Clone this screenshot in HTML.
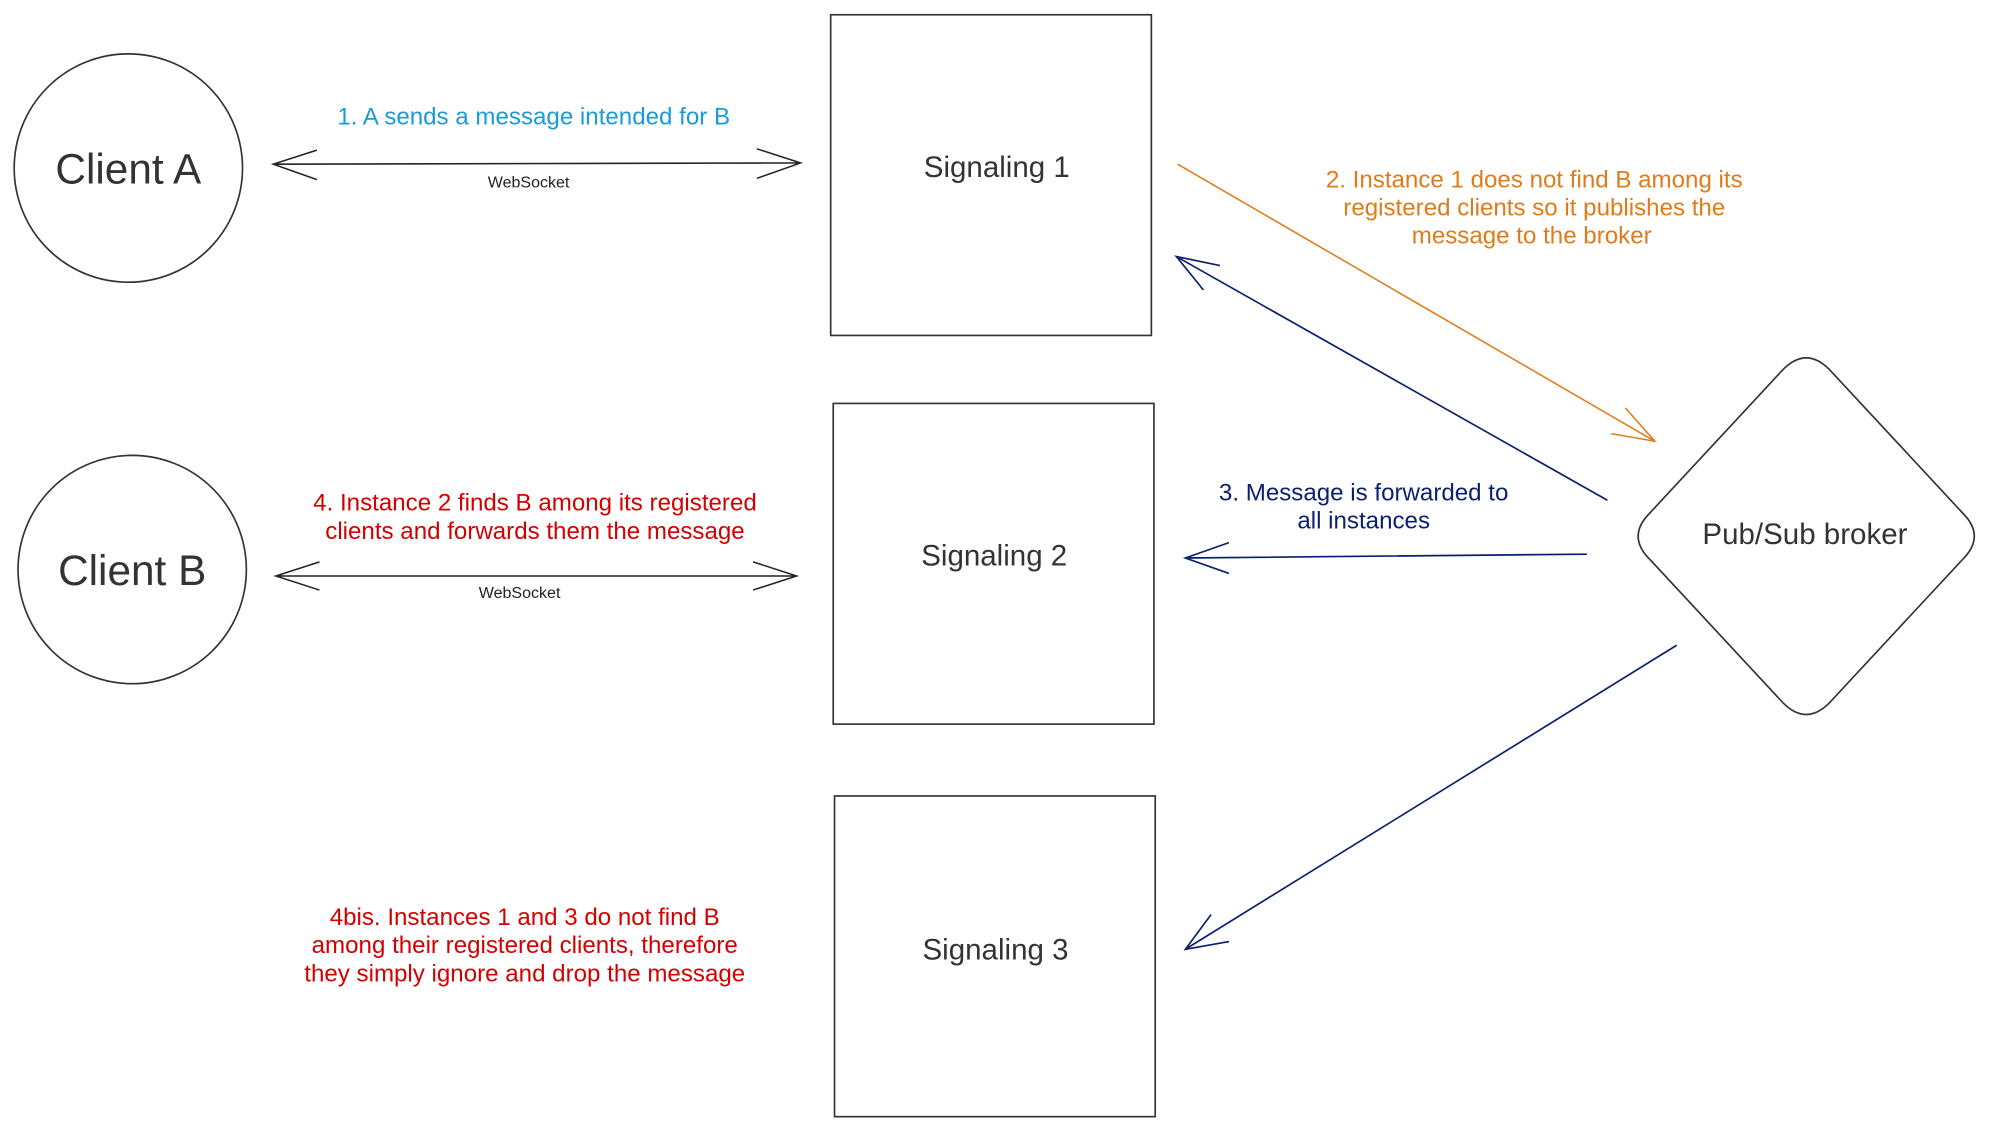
<!DOCTYPE html>
<html><head><meta charset="utf-8"><style>html,body{margin:0;padding:0;background:#fff}svg{display:block}</style></head>
<body>
<svg width="2000" height="1125" viewBox="0 0 1559 877" xmlns="http://www.w3.org/2000/svg" font-family="Liberation Sans, Arial, sans-serif">
<g fill="none" stroke="#333" stroke-width="1.3">
<circle cx="100" cy="131" r="89"/>
<circle cx="103" cy="444" r="89"/>
<rect x="647.5" y="11.5" width="250" height="250"/>
<rect x="649.5" y="314.5" width="250" height="250"/>
<rect x="650.5" y="620.5" width="250" height="250"/>
<path d="M1390,288 Q1408,270 1426,288 L1530,400 Q1548,418 1530,436 L1426,548 Q1408,566 1390,548 L1286,436 Q1268,418 1286,400 Z"/>
</g>
<g fill="none" stroke="#222" stroke-width="1.2">
<path d="M213,128 L624,127 M247,117 L213,128 L247,140 M590,116 L624,127 L590,139"/>
<path d="M215,449 L621,449 M249,438 L215,449 L249,460 M587,438 L621,449 L587,460"/>
</g>
<g fill="none" stroke="#e07b1a" stroke-width="1.2">
<path d="M918,128 L1290,344 M1267,318 L1290,344 L1256,338"/>
</g>
<g fill="none" stroke="#0a1f6e" stroke-width="1.3">
<path d="M1253,390 L917,200 M951,207 L917,200 L938,226"/>
<path d="M1237,432 L924,435 M958,423 L924,435 L958,447"/>
<path d="M1307,503 L924,740 M944,713 L924,740 L958,734"/>
</g>
<g font-size="33" fill="#333" text-anchor="middle">
<text x="100" y="143">Client A</text>
<text x="103" y="456">Client B</text>
</g>
<g font-size="23" fill="#333" text-anchor="middle">
<text x="777" y="138">Signaling 1</text>
<text x="775" y="441">Signaling 2</text>
<text x="776" y="748">Signaling 3</text>
<text x="1407" y="424">Pub/Sub broker</text>
</g>
<g font-size="12.5" fill="#222" text-anchor="middle">
<text x="412" y="146">WebSocket</text>
<text x="405" y="466">WebSocket</text>
</g>
<g font-size="18.8" text-anchor="middle">
<text x="416" y="97" fill="#1a9bd7">1. A sends a message intended for B</text>
<g fill="#e07b1a"><text x="1196" y="146">2. Instance 1 does not find B among its</text><text x="1196" y="168">registered clients so it publishes the</text><text x="1194" y="190">message to the broker</text></g>
<g fill="#0a1f6e"><text x="1063" y="390">3. Message is forwarded to</text><text x="1063" y="412">all instances</text></g>
<g fill="#d40000"><text x="417" y="398">4. Instance 2 finds B among its registered</text><text x="417" y="420">clients and forwards them the message</text>
<text x="409" y="721">4bis. Instances 1 and 3 do not find B</text><text x="409" y="743">among their registered clients, therefore</text><text x="409" y="765">they simply ignore and drop the message</text></g>
</g>
</svg>
</body></html>
